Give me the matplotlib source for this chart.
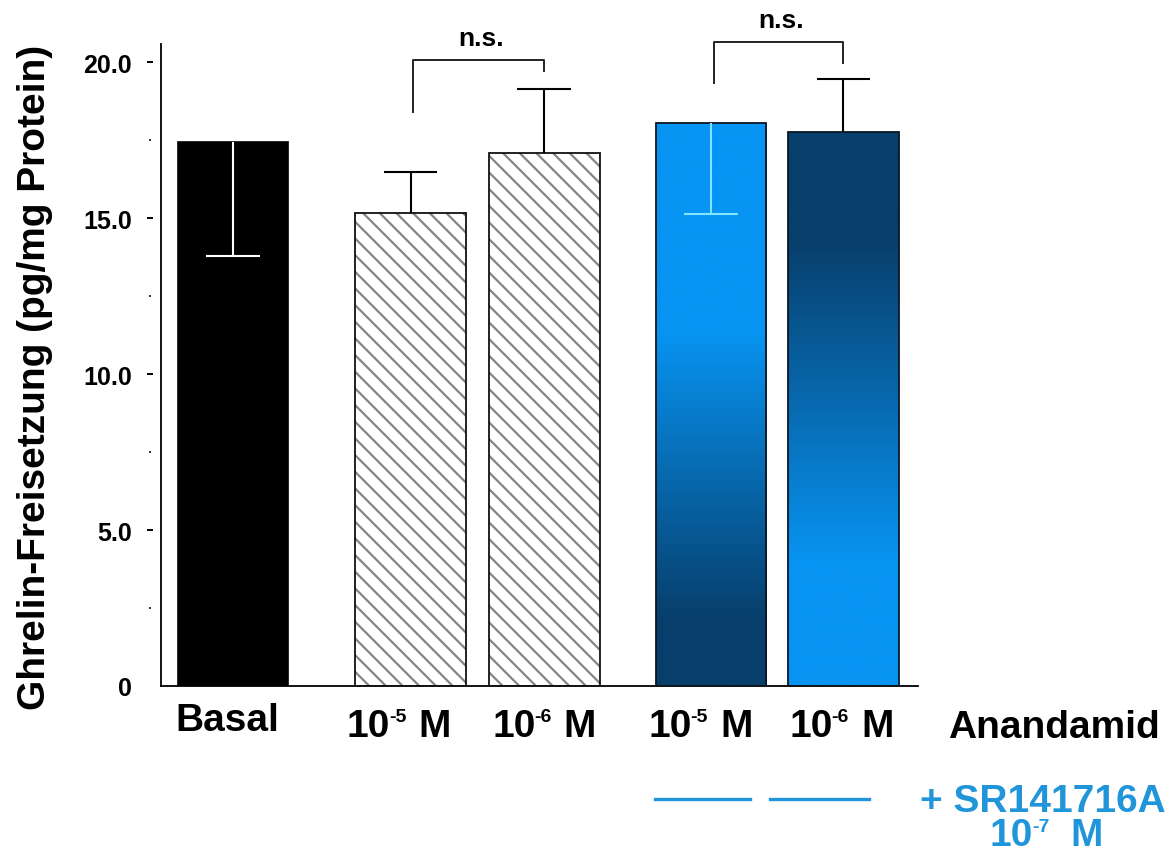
import numpy as np
import matplotlib
matplotlib.use("Agg")
import matplotlib.pyplot as plt
from matplotlib.colors import LinearSegmentedColormap
from matplotlib.lines import Line2D

plt.rcParams['font.family'] = ['Liberation Sans', 'DejaVu Sans']
plt.rcParams['hatch.linewidth'] = 1.6

# ---- data ----
categories = ['Basal', '10-5 M', '10-6 M', '10-5 M', '10-6 M']
values = [17.44, 15.16, 17.08, 18.04, 17.76]
err_lower = [3.66, 0.0, 0.0, 2.92, 0.0]
err_upper = [0.0, 1.31, 2.05, 0.0, 1.70]
y_ticks = [0, 5, 10, 15, 20]
y_tick_labels = ['0', '5.0', '10.0', '15.0', '20.0']
y_minor_ticks = [2.5, 7.5, 12.5, 17.5]
y_label = 'Ghrelin-Freisetzung (pg/mg Protein)'
treatment_label = 'Anandamid'
antagonist_label = '+ SR141716A'
antagonist_conc = '10-7 M'
# significance brackets: (bar a, bar b, bracket top, leg end a, leg end b)
comparisons = [(1, 2, 20.06, 18.40, 19.71), (3, 4, 20.64, 19.33, 19.97)]
comparison_text = 'n.s.'

# ---- layout / style ----
positions = [0, 1.33, 2.33, 3.58, 4.57]
label_shift = [-0.04, -0.09, 0.0, -0.08, -0.015]
bar_width = 0.83
styles = ['solid', 'hatch', 'hatch', 'grad_down', 'grad_up']
err_colors = ['white', 'black', 'black', '#7fe4ff', 'black']
antagonist_spans = [(3.16, 3.87), (4.02, 4.76)]
light_blue = '#0894f2'
dark_blue = '#073f6c'
sr_blue = '#2195d9'

W, H = 1176, 853
fig = plt.figure(figsize=(W / 100, H / 100), dpi=100)
ax = fig.add_axes([161 / W, 1 - 687 / H, (918 - 161) / W, (687 - 45) / H])

grad = np.repeat(np.linspace(0, 1, 1024).reshape(-1, 1), 4, axis=1)
cmap_down = LinearSegmentedColormap.from_list(
    'down', [(0.0, dark_blue), (0.12, dark_blue), (0.63, light_blue), (1.0, light_blue)], N=1024)
cmap_up = LinearSegmentedColormap.from_list(
    'up', [(0.0, light_blue), (0.22, light_blue), (0.80, dark_blue), (1.0, dark_blue)], N=1024)

for x, v, st in zip(positions, values, styles):
    if st == 'solid':
        ax.bar(x, v, bar_width, color='black', edgecolor='black', linewidth=1.2, zorder=3)
    elif st == 'hatch':
        ax.bar(x, v, bar_width, facecolor='white', edgecolor='#858585',
               hatch='\\\\', linewidth=0, zorder=2)
        ax.bar(x, v, bar_width, fill=False, edgecolor='#111111', linewidth=1.3, zorder=3)
    else:
        bars = ax.bar(x, v, bar_width, facecolor='none', edgecolor='#0b1624',
                      linewidth=1.3, zorder=3)
        patch = bars.patches[0]
        x0 = patch.get_x()
        cm = cmap_down if st == 'grad_down' else cmap_up
        im = ax.imshow(grad, cmap=cm, origin='lower', aspect='auto',
                       extent=[x0, x0 + patch.get_width(), 0, patch.get_height()],
                       zorder=2, interpolation='bilinear', interpolation_stage='rgba')
        im.set_clip_path(patch)
ax.set_xlim(-0.539, 5.13)
ax.set_ylim(0, 20.58)

# error bars (one-sided)
cap = 0.2
for x, v, lo, up, c in zip(positions, values, err_lower, err_upper, err_colors):
    if lo > 0:
        ax.vlines(x, v - lo, v, color=c, linewidth=1.5, zorder=4)
        ax.hlines(v - lo, x - cap, x + cap, color=c, linewidth=1.5, zorder=4)
    if up > 0:
        ax.vlines(x, v, v + up, color=c, linewidth=1.5, zorder=4)
        ax.hlines(v + up, x - cap, x + cap, color=c, linewidth=1.5, zorder=4)

# significance brackets
for a, b, top, la, lb in comparisons:
    xa, xb = positions[a] + 0.02, positions[b] + 0.0
    ax.plot([xa, xa, xb, xb], [la, top, top, lb], color='#222222',
            linewidth=1.4, clip_on=False, zorder=4)
    ax.text((xa + xb) / 2 + 0.02, top + 0.33, comparison_text, ha='center', va='bottom',
            fontsize=19, fontweight='bold', clip_on=False)

for s in ['top', 'right']:
    ax.spines[s].set_visible(False)
for s in ['left', 'bottom']:
    ax.spines[s].set_linewidth(1.3)

ax.set_xticks(positions, [''] * len(positions))
ax.tick_params(axis='x', length=0)

# y ticks: small dashes set slightly apart from the axis line
ax.set_yticks(y_ticks, y_tick_labels, fontsize=18, fontweight='bold')
ax.tick_params(axis='y', which='both', length=0, pad=21)
ytr = ax.get_yaxis_transform()
ax.plot([-0.0145] * len(y_ticks[1:]), y_ticks[1:], ls='none', marker='_',
        markersize=5, markeredgewidth=1.4, color='black', transform=ytr, clip_on=False)
ax.plot([-0.0145] * len(y_minor_ticks), y_minor_ticks, ls='none', marker='_',
        markersize=2, markeredgewidth=1.4, color='#333333', transform=ytr, clip_on=False)

fig.text(35 / W, 1 - 377 / H, y_label, rotation=90, ha='center', va='center',
         fontsize=28, fontweight='bold')

renderer = fig.canvas.get_renderer()


def put_label(text, cx, baseline, size=28, color='black', gap=12, raise_px=15):
    """Write text centred at pixel cx with its baseline at pixel row `baseline`.
    Text of the form '10-5 M' gets a raised exponent."""
    kw = dict(fontweight='bold', color=color, va='baseline', ha='left')
    if not text.startswith('10-'):
        fig.text(cx / W, 1 - baseline / H, text, ha='center', va='baseline',
                 fontsize=size, fontweight='bold', color=color)
        return
    exp, unit = text[2:].split(' ')
    parts = [fig.text(0, 0, '10', fontsize=size, **kw),
             fig.text(0, 0, exp, fontsize=size * 0.5, **kw),
             fig.text(0, 0, unit, fontsize=size, **kw)]
    widths = [p.get_window_extent(renderer).width for p in parts]
    lead = -1
    total = widths[0] + lead + widths[1] + gap + widths[2]
    x = cx - total / 2
    parts[0].set_position((x / W, 1 - baseline / H))
    x += widths[0] + lead
    parts[1].set_position((x / W, 1 - (baseline - raise_px) / H))
    x += widths[1] + gap
    parts[2].set_position((x / W, 1 - baseline / H))


label_baselines = [731, 737, 737, 737, 737]
for x, shift, lab, bl in zip(positions, label_shift, categories, label_baselines):
    cx = ax.transData.transform((x + shift, 0))[0]
    put_label(lab, cx, bl)
put_label(treatment_label, 1054, 738)

# antagonist marker lines under the blue bars
xtr = ax.get_xaxis_transform()
for x_start, x_end in antagonist_spans:
    ax.add_line(Line2D([x_start, x_end], [-0.176, -0.176], color=sr_blue, linewidth=2.4,
                       transform=xtr, clip_on=False))
fig.text(1166 / W, 1 - 812 / H, antagonist_label, ha='right', va='baseline',
         fontsize=28, fontweight='bold', color=sr_blue)
put_label(antagonist_conc, 1046, 846, color=sr_blue, gap=21, raise_px=14)

fig.savefig('out.png', dpi=100)
